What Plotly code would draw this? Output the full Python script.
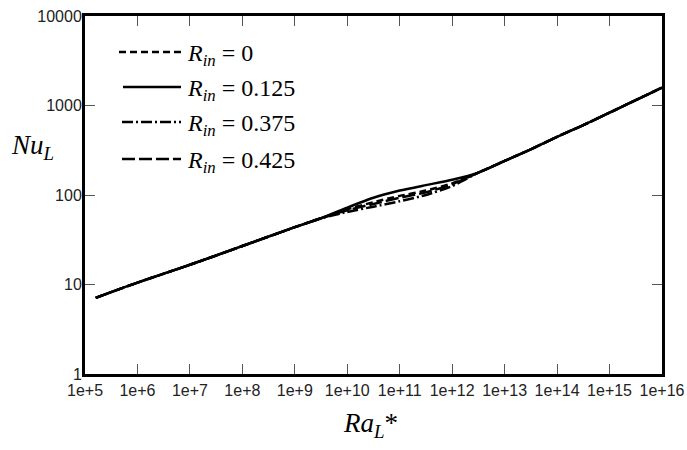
import plotly.graph_objects as go

# ---- data ----
ra = [1.6e5, 1e6, 1e7, 1e8, 1e9, 3.16e9, 1e10, 3.16e10, 1e11, 3.16e11, 1e12,
      3.16e12, 1e13, 3.16e13, 1e14, 3.16e14, 1e15, 3.16e15, 1e16]
nu_r0000 = [7.1, 10.5, 16.6, 26.9, 43.7, 55.0, 69.2, 83.2, 97.7, 112, 135,
            178, 240, 324, 447, 603, 832, 1148, 1585]
nu_r0125 = [7.1, 10.5, 16.6, 26.9, 43.7, 55.0, 72.4, 93.3, 112, 129, 148,
            178, 240, 324, 447, 603, 832, 1148, 1585]
nu_r0375 = [7.1, 10.5, 16.6, 26.9, 43.7, 55.0, 64.6, 74.1, 85.1, 100, 126,
            178, 240, 324, 447, 603, 832, 1148, 1585]
nu_r0425 = [7.1, 10.5, 16.6, 26.9, 43.7, 55.0, 67.6, 79.4, 93.3, 107, 132,
            178, 240, 324, 447, 603, 832, 1148, 1585]

series_names = ["0", "0.125", "0.375", "0.425"]
series_values = [nu_r0000, nu_r0125, nu_r0375, nu_r0425]
series_dash = ["7px,4px", "solid", "11px,3px,2px,3px", "13px,4px"]

x_tickvals = [1e5, 1e6, 1e7, 1e8, 1e9, 1e10, 1e11, 1e12, 1e13, 1e14, 1e15, 1e16]
x_ticktext = ["1e+5", "1e+6", "1e+7", "1e+8", "1e+9", "1e+10", "1e+11",
              "1e+12", "1e+13", "1e+14", "1e+15", "1e+16"]
y_tickvals = [1, 10, 100, 1000, 10000]
y_ticktext = ["1", "10", "100", "1000", "10000"]

# ---- layout geometry (pixels) ----
W, H = 687, 450
L, R, T, B = 85, 662, 16, 374


def px(xp):
    return (xp - L) / (R - L)


def py(yp):
    return (B - yp) / (B - T)


fig = go.Figure()
for name, vals, dash in zip(series_names, series_values, series_dash):
    fig.add_trace(go.Scatter(
        x=ra, y=vals, mode="lines", name=name,
        line=dict(color="black", width=2.5, dash=dash, shape="spline", smoothing=0.6),
        showlegend=False, hoverinfo="skip"))

serif = "Liberation Serif"
sans = "Liberation Sans"

axis_common = dict(
    showline=True, linecolor="black", linewidth=3, mirror="allticks",
    ticks="inside", ticklen=10, tickwidth=1, tickcolor="#555555",
    showgrid=False, zeroline=False, automargin=False,
    tickfont=dict(family=sans, size=16, color="#222222"),
)

fig.update_xaxes(type="log", range=[5, 16], tickvals=x_tickvals,
                 ticktext=x_ticktext, **axis_common)
fig.update_yaxes(type="log", range=[0, 4], tickvals=y_tickvals,
                 ticktext=y_ticktext, ticklabelstandoff=-3, **axis_common)

annotations = [
    dict(text="<i>Nu</i><sub><i>L</i></sub>", x=px(32), y=py(147), xref="paper",
         yref="paper", showarrow=False, xanchor="center", yanchor="middle",
         font=dict(family=serif, size=27, color="black")),
    dict(text="<i>Ra</i><sub><i>L</i></sub>*", x=px(370), y=py(425), xref="paper",
         yref="paper", showarrow=False, xanchor="center", yanchor="middle",
         font=dict(family=serif, size=27, color="black")),
]

shapes = []
legend_rows = [52, 87, 122, 159]
legend_x0 = [119, 123, 122, 122]
for row_y, x0, name, dash in zip(legend_rows, legend_x0, series_names, series_dash):
    shapes.append(dict(type="line", xref="paper", yref="paper",
                       x0=px(x0), x1=px(181), y0=py(row_y), y1=py(row_y),
                       line=dict(color="black", width=2.4, dash=dash)))
    annotations.append(dict(
        text="<i>R</i><sub><i>in</i></sub> = " + name,
        x=px(185), y=py(row_y + 3), xref="paper", yref="paper", showarrow=False,
        xanchor="left", yanchor="middle",
        font=dict(family=serif, size=24, color="black")))

fig.update_layout(
    width=W, height=H,
    margin=dict(l=L, r=W - R, t=T, b=H - B, autoexpand=False),
    paper_bgcolor="white", plot_bgcolor="white",
    annotations=annotations, shapes=shapes,
)

fig.write_html("out.html", config={"displayModeBar": False},
               post_script="document.body.style.margin='0';document.body.style.padding='0';")
